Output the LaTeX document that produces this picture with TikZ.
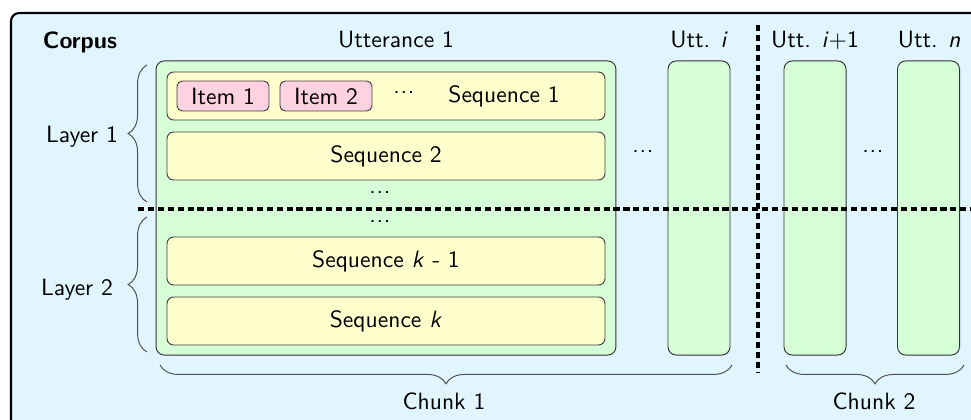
\documentclass[tikz,border=0pt]{standalone}
\usetikzlibrary{decorations.pathreplacing}
\definecolor{corpusblue}{RGB}{225,245,255}
\definecolor{uttgreen}{RGB}{215,255,215}
\definecolor{seqyellow}{RGB}{255,255,205}
\definecolor{itempink}{RGB}{255,210,225}
\newcommand{\threedots}{.\kern0.03em.\kern0.03em.}
\begin{document}
\begin{tikzpicture}[x=0.424pt,y=0.424pt,yscale=-1,font=\sffamily,
  uttbox/.style={draw=black!80,fill=uttgreen,rounded corners=3.5pt,inner sep=0pt,minimum width=26.3pt,minimum height=124.7pt},
  seqbox/.style={draw=black!75,fill=seqyellow,rounded corners=2.8pt,inner sep=0pt,minimum width=185.7pt,minimum height=20.35pt},
  itembox/.style={draw=black!75,fill=itempink,rounded corners=2.2pt,inner sep=0pt,minimum width=39pt,minimum height=12.7pt},
  sepline/.style={line width=1.3pt,dash pattern=on 2.6pt off 1.6pt},
  bracket/.style={draw=black!70,decorate,decoration={brace,amplitude=8pt}}]
\useasboundingbox (0,0) rectangle (971,419);
\clip (0,0) rectangle (971,419);
%Shape: Rectangle [corpus]
\draw [line width=0.9pt,fill=corpusblue,rounded corners=3.5pt] (11,13) rectangle (990,440);
% Text Node
\node (corpus) at (80,42) {\textbf{Corpus}};
%Shape: Utterance boxes
\node [uttbox,minimum width=195pt] (utt1) at (386,208) {};
\node [uttbox] (utti) at (699,208) {};
\node [uttbox] (uttj) at (815,208) {};
\node [uttbox] (uttn) at (928.5,208) {};
% Text Node
\node (utt1lab) at (396,40) {Utterance 1};
\node (uttilab) at (699,40) {Utt. \textit{i}};
\node (uttjlab) at (815,40) {Utt. \textit{i}+1};
\node (uttnlab) at (929,40) {Utt. \textit{n}};
\node (dotsa) at (643,152) {\threedots};
\node (dotsb) at (873,152) {\threedots};
%Shape: Sequence boxes
\node [seqbox] (seq1) at (386,96) {};
\node [seqbox] (seq2) at (386,156) {Sequence 2};
\node [seqbox] (seqk1) at (386,261) {Sequence \textit{k} - 1};
\node [seqbox] (seqk) at (386,321) {Sequence \textit{k}};
\node (dotsc) at (380,193) {\threedots};
\node (dotsd) at (380,222) {\threedots};
% Text Node
\node [itembox] (item1) at (223,96) {Item 1};
\node [itembox] (item2) at (326,96) {Item 2};
\node (dotse) at (404,93) {\threedots};
\node (seq1lab) at (504,96) {Sequence 1};
%Shape: separators
\draw [sepline] (138,209) -- (975,209);
\draw [sepline] (758,25) -- (758,373);
%Shape: braces
\draw [bracket] (147,202) -- (147,65);
\draw [bracket] (147,352) -- (147,217);
\draw [bracket] (732,365) -- (160,365);
\draw [bracket] (964,365) -- (786,365);
% Text Node
\node (layer1) at (82,137) {Layer 1};
\node (layer2) at (77,290) {Layer 2};
\node (chunk1) at (444,401) {Chunk 1};
\node (chunk2) at (874,401) {Chunk 2};
\end{tikzpicture}
\end{document}
